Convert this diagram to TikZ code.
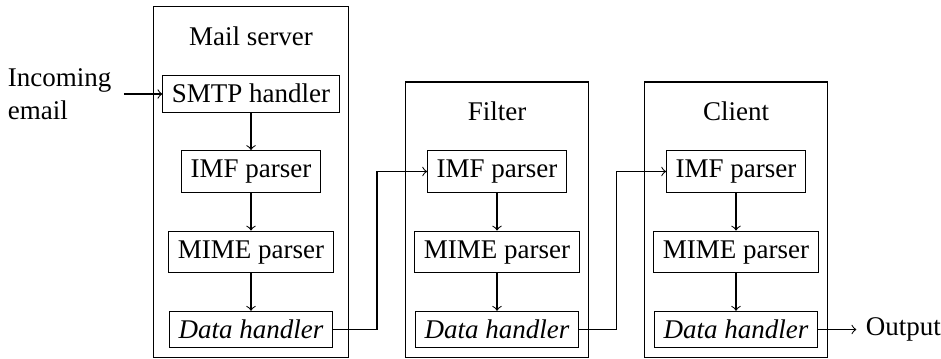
\documentclass[tikz,border=0pt]{standalone}
\usepackage{fontspec}
\setmainfont{Liberation Serif}
\usetikzlibrary{positioning,fit,calc}
\begin{document}
\begin{tikzpicture}[x=0.37037pt,y=-0.37037pt,
  blk/.style={draw, inner sep=3.33pt, text height=6.7pt},
  grp/.style={draw, inner sep=3.33pt},
  ttl/.style={inner sep=3.33pt, text height=7.4pt, text depth=0pt, anchor=base},
  arr/.style={->},
  node distance=0.5cm]
\useasboundingbox (0,0) rectangle (941,358);
% Mail server
\node[blk] (smtp) at (251,94) {SMTP handler};
\node[blk] (imfa) at (251,171.5) {IMF parser};
\node[blk] (mimea) at (251,252) {MIME parser};
\node[blk] (dataa) at (251,329.5) {\textit{Data handler}};
\node[ttl] (ta) at (251,45) {Mail server};
\node[grp, fit=(ta)(smtp)(imfa)(mimea)(dataa)] (mail) {};
% Filter
\node[blk] (imfb) at (497,171.5) {IMF parser};
\node[blk] (mimeb) at (497,252) {MIME parser};
\node[blk] (datab) at (497,329.5) {\textit{Data handler}};
\node[ttl] (tb) at (497,120.5) {Filter};
\node[grp, fit=(tb)(imfb)(mimeb)(datab)] (filt) {};
% Client
\node[blk] (imfc) at (736,171.5) {IMF parser};
\node[blk] (mimec) at (736,252) {MIME parser};
\node[blk] (datac) at (736,329.5) {\textit{Data handler}};
\node[ttl] (tc) at (736,120.5) {Client};
\node[grp, fit=(tc)(imfc)(mimec)(datac)] (cli) {};
% in / out
\node[left=0.5cm of smtp, align=left, inner xsep=4.5pt] (in) {Incoming\\email};
\node[right=0.5cm of datac] (out) {Output};
\coordinate (m1) at ($(mail.east)!0.5!(filt.west)$);
\coordinate (m2) at ($(filt.east)!0.5!(cli.west)$);
% connectors
\draw[arr] (in) -- (smtp);
\draw[arr] (smtp) -- (imfa);
\draw[arr] (imfa) -- (mimea);
\draw[arr] (mimea) -- (dataa);
\draw[arr] (imfb) -- (mimeb);
\draw[arr] (mimeb) -- (datab);
\draw[arr] (imfc) -- (mimec);
\draw[arr] (mimec) -- (datac);
\draw[arr] (dataa.east) -- (dataa.east -| m1) |- (imfb.west);
\draw[arr] (datab.east) -- (datab.east -| m2) |- (imfc.west);
\draw[arr] (datac) -- (out);
\end{tikzpicture}
\end{document}
